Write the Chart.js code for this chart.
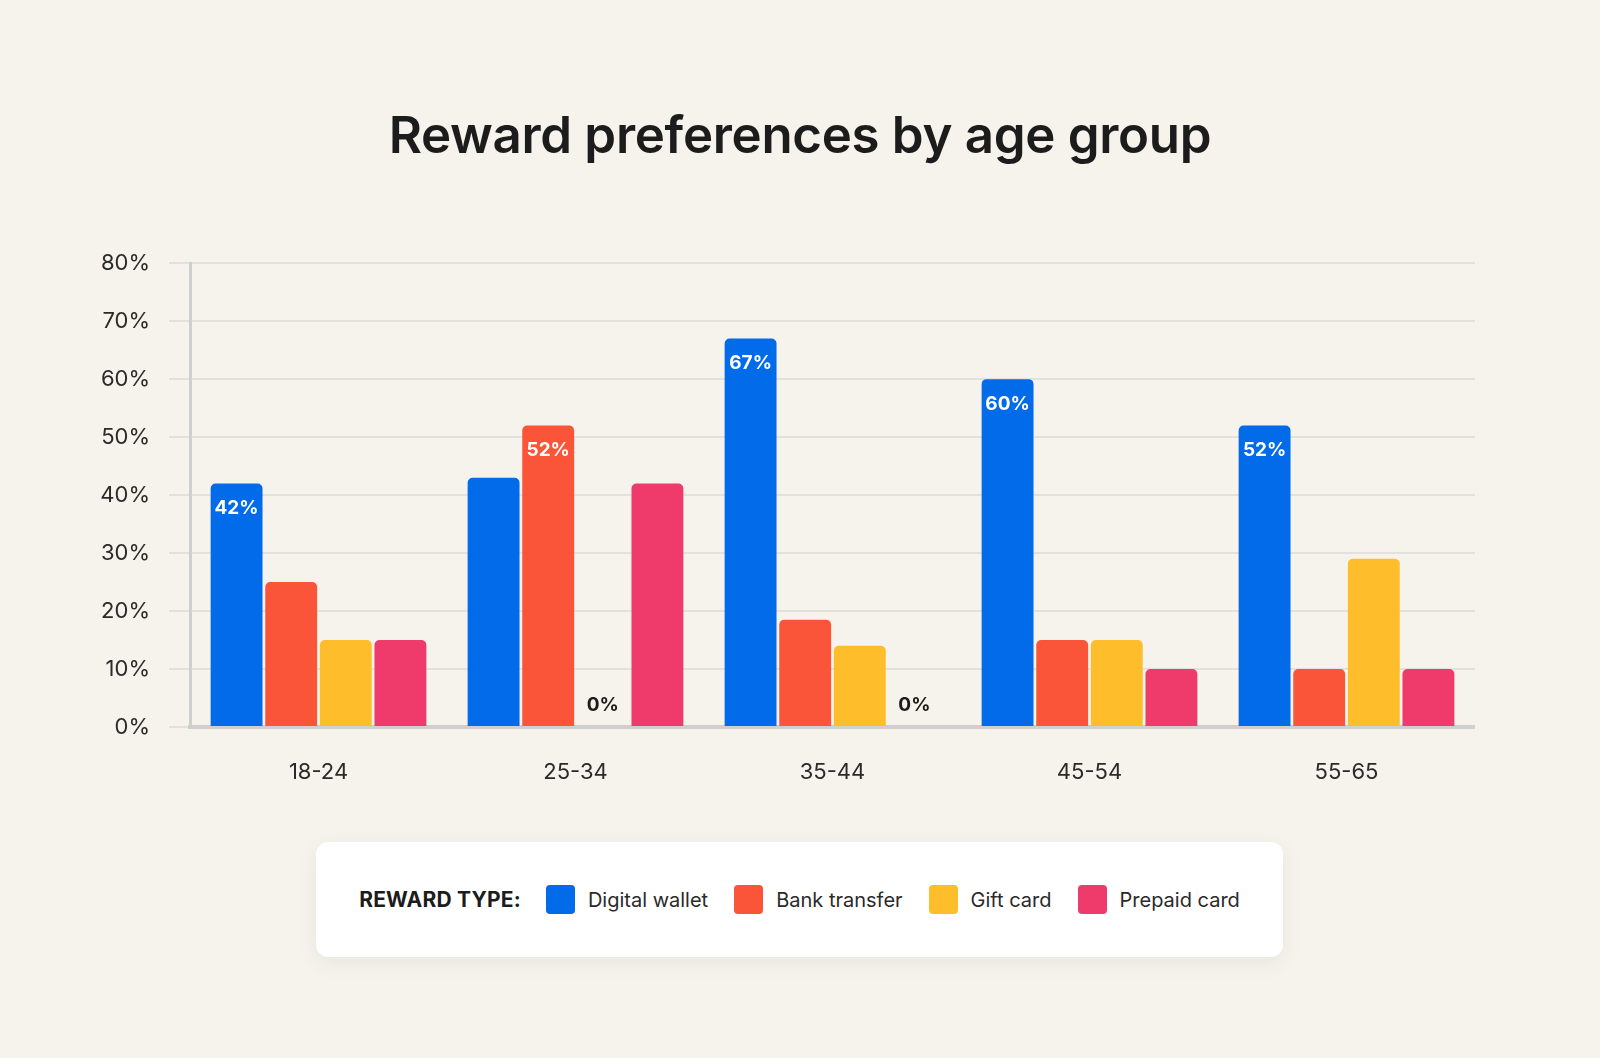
<!DOCTYPE html>
<html lang="en">
<head>
<meta charset="UTF-8"/>
<title>Reward preferences by age group</title>
<script src="https://cdn.jsdelivr.net/npm/chart.js@4.4.7/dist/chart.umd.min.js"></script>
<style>
*{box-sizing:border-box;margin:0;padding:0}
html,body{width:1600px;height:1058px;overflow:hidden}
body{background:#f6f3ec;font-family:'Inter','Noto Sans',sans-serif;color:#1c1c1c;position:relative}
.title{position:absolute;left:0;top:105px;width:1600px;text-align:center;font-size:51px;line-height:60px;font-weight:600;letter-spacing:-0.3px;color:#1c1c1c}
.chart-wrap{position:absolute;left:80px;top:231px;width:1395px;height:576px}
.legend{position:absolute;left:316px;top:842px;width:967px;height:115px;background:#fff;border-radius:12px;box-shadow:0 6px 22px rgba(0,0,0,.06);display:flex;align-items:center;justify-content:center}
.legend .lbl{font-size:21px;font-weight:700;letter-spacing:.2px;margin-right:25px;color:#1c1c1c}
.legend .item{display:flex;align-items:center;margin-right:26px;font-size:20px;color:#2a2a2a}
.legend .item:last-child{margin-right:0}
.legend .sw{width:29px;height:29px;border-radius:4px;margin-right:13px}
</style>
</head>
<body>
<div class="title">Reward preferences by age group</div>
<div class="chart-wrap"><canvas id="chart"></canvas></div>
<div class="legend" id="legend"><span class="lbl">REWARD TYPE:</span></div>

<script>
const categories   = ['18-24', '25-34', '35-44', '45-54', '55-65'];
const seriesNames  = ['Digital wallet', 'Bank transfer', 'Gift card', 'Prepaid card'];
const seriesColors = ['#016bea', '#fa5538', '#febe2c', '#ef3b6c'];

const digitalWallet = [42, 43, 67, 60, 52];
const bankTransfer  = [25, 52, 18.5, 15, 10];
const giftCard      = [15, 0, 14, 15, 29];
const prepaidCard   = [15, 42, 0, 10, 10];

const yMax  = 80;
const yStep = 10;

const seriesValues = [digitalWallet, bankTransfer, giftCard, prepaidCard];

// legend built from the same arrays
const legendEl = document.getElementById('legend');
seriesNames.forEach((name, i) => {
  const item = document.createElement('span');
  item.className = 'item';
  item.innerHTML = `<span class="sw" style="background:${seriesColors[i]}"></span>${name}`;
  legendEl.appendChild(item);
});

// labels: group maximum inside the bar top (white), zero values above baseline (dark)
const valueLabels = {
  id: 'valueLabels',
  afterDatasetsDraw(chart) {
    const { ctx } = chart;
    ctx.save();
    ctx.textAlign = 'center';
    ctx.textBaseline = 'middle';
    ctx.font = "700 19px 'Inter', sans-serif";
    categories.forEach((_, idx) => {
      const groupMax = Math.max(...seriesValues.map((s) => s[idx]));
      chart.data.datasets.forEach((ds, di) => {
        const bar = chart.getDatasetMeta(di).data[idx];
        const v = ds.data[idx];
        if (v === groupMax) {
          ctx.fillStyle = '#ffffff';
          ctx.fillText(v.toFixed(0) + '%', bar.x, bar.y + 25);
        } else if (v === 0) {
          ctx.fillStyle = '#1c1c1c';
          ctx.fillText('0%', bar.x, bar.base - 22);
        }
      });
    });
    ctx.restore();
  }
};

new Chart(document.getElementById('chart'), {
  type: 'bar',
  data: {
    labels: categories,
    datasets: seriesNames.map((name, i) => ({
      label: name,
      data: seriesValues[i],
      backgroundColor: seriesColors[i],
      borderRadius: { topLeft: 5, topRight: 5 },
      borderSkipped: 'bottom',
      categoryPercentage: 0.85,
      barPercentage: 0.95,
    }))
  },
  options: {
    responsive: true,
    maintainAspectRatio: false,
    animation: false,
    layout: { padding: { top: 13, right: 0, bottom: 0, left: 0 } },
    plugins: { legend: { display: false }, tooltip: { enabled: false } },
    scales: {
      x: {
        grid: { display: false },
        border: { display: true, color: '#cfcfcf', width: 4 },
        ticks: { color: '#2a2a2a', font: { family: 'Inter', size: 22 }, padding: 24 },
        afterFit: (s) => { s.height = 80; }
      },
      y: {
        min: 0,
        max: yMax,
        grid: { color: '#e2e1de', lineWidth: 2, tickLength: 21, tickColor: '#e2e1de' },
        border: { display: true, color: '#cfcfcf', width: 3 },
        ticks: { stepSize: yStep, color: '#2a2a2a', font: { family: 'Inter', size: 22 }, padding: 19, callback: (v) => v + '%' },
        afterFit: (s) => { s.width = 110; }
      }
    }
  },
  plugins: [valueLabels]
});
</script>
</body>
</html>
